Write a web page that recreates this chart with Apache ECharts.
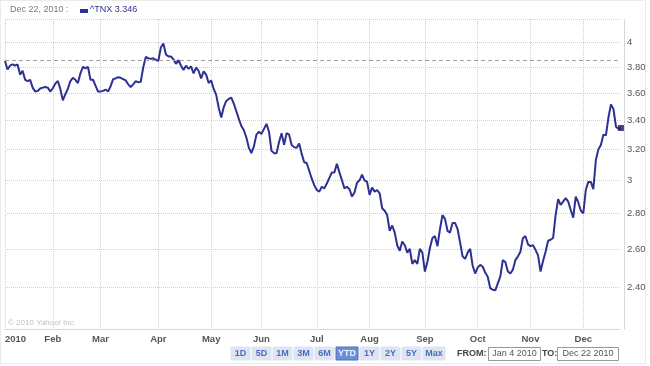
<!DOCTYPE html>
<html><head><meta charset="utf-8">
<script src="https://cdn.jsdelivr.net/npm/echarts@6/dist/echarts.min.js"></script>
<style>html,body{margin:0;padding:0;background:#fff}#c{width:650px;height:366px}</style>
</head><body><div id="c"></div>
<script>
// ^TNX daily closes 2010, one array per month of trading days
const jan = [3.847,3.78,3.81,3.82,3.81,3.82,3.74,3.77,3.70,3.69,3.70,3.64,3.61,3.615,3.633,3.64,3.645,3.64,3.61];
const feb = [3.635,3.67,3.69,3.63,3.545,3.59,3.63,3.69,3.715,3.70,3.675,3.75,3.80,3.79,3.80,3.70,3.70,3.655,3.61];
const mar = [3.61,3.615,3.625,3.61,3.65,3.705,3.71,3.72,3.715,3.705,3.695,3.665,3.645,3.665,3.69,3.68,3.685,3.80,3.88,3.87,3.865,3.87,3.855];
const apr = [3.85,3.96,3.99,3.90,3.885,3.885,3.86,3.825,3.855,3.81,3.776,3.81,3.785,3.805,3.75,3.795,3.77,3.71,3.765,3.74,3.675];
const may = [3.695,3.63,3.585,3.49,3.42,3.495,3.54,3.555,3.565,3.52,3.465,3.41,3.36,3.33,3.28,3.21,3.175,3.22,3.30,3.32];
const jun = [3.305,3.34,3.375,3.32,3.19,3.175,3.175,3.25,3.31,3.23,3.31,3.30,3.23,3.215,3.21,3.24,3.17,3.115,3.11,3.06,3.01,2.97];
const jul = [2.94,2.93,2.96,2.95,2.98,3.015,3.05,3.05,3.105,3.05,3.00,2.95,2.96,2.945,2.90,2.925,2.985,3.00,3.035,3.00,2.99];
const aug = [2.91,2.955,2.93,2.94,2.92,2.83,2.815,2.79,2.70,2.73,2.69,2.62,2.59,2.64,2.62,2.58,2.60,2.52,2.54,2.52,2.60,2.58];
const sep = [2.48,2.53,2.605,2.66,2.67,2.615,2.71,2.79,2.768,2.70,2.69,2.745,2.745,2.71,2.635,2.56,2.547,2.58,2.60,2.51,2.47];
const oct = [2.50,2.515,2.505,2.475,2.453,2.395,2.388,2.385,2.42,2.455,2.54,2.53,2.48,2.47,2.49,2.54,2.56,2.585,2.66,2.67,2.625];
const nov = [2.615,2.62,2.595,2.565,2.48,2.535,2.585,2.645,2.65,2.66,2.79,2.885,2.85,2.87,2.89,2.87,2.82,2.775,2.90,2.866,2.817];
const dec = [2.80,2.94,2.99,2.99,2.945,3.13,3.20,3.23,3.30,3.295,3.42,3.515,3.48,3.355,3.34,3.346];

const holidays = ['2010-01-18','2010-02-15','2010-04-02','2010-05-31','2010-07-05','2010-09-06','2010-11-25'];
const firstDay = '2010-01-04', lastDay = '2010-12-22';
const monthLabels = ['2010','Feb','Mar','Apr','May','Jun','Jul','Aug','Sep','Oct','Nov','Dec'];
const yTicks = [2.4,2.6,2.8,3,3.2,3.4,3.6,3.8,4];
const yTickLabels = ['2.40','2.60','2.80','3','3.20','3.40','3.60','3.80','4'];
const yMin = 2.2, yMax = 4.2;
const refValue = 3.845;
const legendDate = 'Dec 22, 2010 :';
const legendName = '^TNX';
const ranges = ['1D','5D','1M','3M','6M','YTD','1Y','2Y','5Y','Max'];
const activeRange = 'YTD';
const fromText = 'Jan 4 2010', toText = 'Dec 22 2010';
const copyright = '\u00a9 2010 Yahoo! Inc.';

function tradingDays() {
  const out = [];
  let d = new Date(firstDay + 'T00:00:00Z');
  const end = new Date(lastDay + 'T00:00:00Z');
  while (d <= end) {
    const wd = d.getUTCDay();
    const s = d.toISOString().slice(0, 10);
    if (wd !== 0 && wd !== 6 && holidays.indexOf(s) < 0) out.push(s);
    d = new Date(d.getTime() + 86400000);
  }
  return out;
}
const dates = tradingDays();
const values = [].concat(jan, feb, mar, apr, may, jun, jul, aug, sep, oct, nov, dec);
const isMonthStart = i => i === 0 || dates[i].slice(5, 7) !== dates[i - 1].slice(5, 7);
const last = values.length - 1;

const GRID = '#cfcfcf';
const FONT = '"Liberation Sans", Arial, sans-serif';
const graphic = [
  {type:'rect', silent:true, shape:{x:0.5, y:0.5, width:645, height:363}, style:{fill:'none', stroke:'#d6d6d6', lineWidth:1, lineDash:[1,1]}},
  {type:'text', x:10, y:10, style:{text:legendDate, fill:'#7a7a7a', font:'9px ' + FONT, verticalAlign:'middle'}},
  {type:'rect', shape:{x:80, y:9, width:8, height:4}, style:{fill:'#2d3192'}},
  {type:'text', x:90, y:10, style:{text:legendName + ' ' + values[last].toFixed(3), fill:'#2d3192', font:'9px ' + FONT, verticalAlign:'middle'}},
  {type:'text', x:8, y:323, style:{text:copyright, fill:'#c0c0c0', font:'8px ' + FONT, verticalAlign:'middle'}}
];
let bx = 231;
ranges.forEach(r => {
  const w = r.length > 2 ? 22 : 19;
  const act = r === activeRange;
  graphic.push({type:'rect', shape:{x:bx, y:347, width:w, height:13}, style:{fill: act ? '#6d8fd6' : '#dfe5f0', stroke: act ? '#4c6fc0' : '#dfe5f0'}});
  graphic.push({type:'text', x:bx + w / 2, y:353.5, style:{text:r, fill: act ? '#e8eeff' : '#4a6cc0', font:'bold 9px ' + FONT, align:'center', verticalAlign:'middle'}});
  bx += w + 2;
});
graphic.push({type:'text', x:457, y:353.5, style:{text:'FROM:', fill:'#444', font:'bold 9px ' + FONT, verticalAlign:'middle'}});
graphic.push({type:'rect', shape:{x:488.5, y:347.5, width:52, height:13}, style:{fill:'#fff', stroke:'#999'}});
graphic.push({type:'text', x:514.5, y:354, style:{text:fromText, fill:'#555', font:'9px ' + FONT, align:'center', verticalAlign:'middle'}});
graphic.push({type:'text', x:542, y:353.5, style:{text:'TO:', fill:'#444', font:'bold 9px ' + FONT, verticalAlign:'middle'}});
graphic.push({type:'rect', shape:{x:557.5, y:347.5, width:61, height:13}, style:{fill:'#fff', stroke:'#999'}});
graphic.push({type:'text', x:588, y:354, style:{text:toText, fill:'#555', font:'9px ' + FONT, align:'center', verticalAlign:'middle'}});

const chart = echarts.init(document.getElementById('c'), null, {renderer:'canvas'});
chart.setOption({
  animation:false,
  backgroundColor:'#fff',
  grid:{left:5, top:19, right:29, bottom:37, containLabel:false},
  xAxis:{
    type:'category', data:dates, boundaryGap:false,
    axisLine:{show:true, lineStyle:{color:GRID, type:'dotted'}},
    axisTick:{show:false},
    axisLabel:{interval:(i) => isMonthStart(i), formatter:(v) => monthLabels[+v.slice(5, 7) - 1],
      color:'#555', fontWeight:'bold', fontSize:9.5, fontFamily:FONT, margin:5, alignMinLabel:'left'},
    splitLine:{show:true, interval:(i) => isMonthStart(i), lineStyle:{color:GRID, type:'dotted'}}
  },
  yAxis:{
    type:'log', logBase:10, min:yMin, max:yMax, position:'right', offset:3,
    axisLine:{show:true, lineStyle:{color:GRID, type:'dotted'}},
    axisTick:{show:false, customValues:yTicks.concat([yMax])},
    axisLabel:{customValues:yTicks, color:'#555', fontSize:9.5, fontFamily:FONT, margin:3,
      formatter:(v) => { let bi = 0; yTicks.forEach((t, i) => { if (Math.abs(t - v) < Math.abs(yTicks[bi] - v)) bi = i; }); return yTickLabels[bi]; }},
    splitLine:{show:true, lineStyle:{color:GRID, type:'dotted'}}
  },
  series:[
    {type:'line', data:values, symbol:'none', showSymbol:false, lineStyle:{color:'#2d3192', width:2}, z:3,
     markLine:{silent:true, symbol:'none', label:{show:false}, lineStyle:{color:'#b09a9a', type:[4,3], width:1},
       data:[{yAxis:refValue}]}},
    {type:'scatter', data:[[dates[last], values[last]]], symbol:'rect', symbolSize:6, itemStyle:{color:'#1a1a66'}, z:4}
  ],
  graphic:graphic
});
</script></body></html>
